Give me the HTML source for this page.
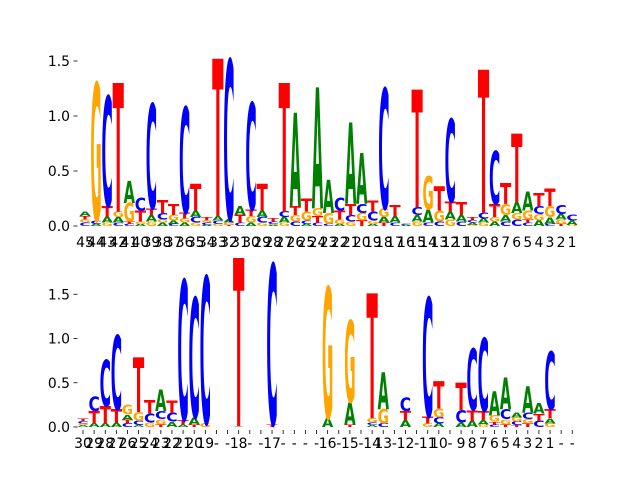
<!DOCTYPE html>
<html><head><meta charset="utf-8">
<style>
html,body{margin:0;padding:0;background:#fff;}
svg{display:block;font-family:"DejaVu Sans","Liberation Sans",sans-serif;}
</style></head>
<body>
<svg id="chart" width="640" height="480" viewBox="0 0 640 480">
<rect width="640" height="480" fill="#fff"/>
<g id="top"></g>
<g id="bot"></g>
</svg>
<script>
const topLabels = ["45","44","43","42","41","40","39","38","37","36","35","34","33","32","31","30","29","28","27","26","25","24","23","22","21","20","19","18","17","16","15","14","13","12","11","10","9","8","7","6","5","4","3","2","1"];
const topA = [.04,.02,.05,.05,.2,.02,.06,.03,.03,.03,.06,.01,.04,.03,.08,.03,.06,.01,.05,.85,.02,1.1,.3,.02,.74,.46,.02,.05,.06,.01,.06,.12,0,.07,.06,.02,.04,.04,.06,.1,.17,.05,.06,.05,.04];
const topC = [.03,.03,1.0,.03,.02,.12,.95,.06,.02,.96,.05,.02,.03,1.45,.03,.97,.05,.02,.05,.04,.03,.03,.02,.12,.06,.08,.08,1.09,.03,.01,.07,.03,.04,.75,.04,.02,.05,.48,.04,.06,.03,.07,.02,.08,.05];
const topG = [.03,1.25,.03,.05,.17,.02,.04,.03,.05,.04,.03,.02,.02,.02,0,.06,.03,.01,.03,.06,.08,.07,.1,.04,.04,.07,.03,.08,0,0,.04,.3,.1,.06,0,.01,.03,.04,.1,.06,.08,.06,.1,.04,.01];
const topT = [.03,0,.1,1.17,.02,.1,.06,.12,.1,.05,.24,.03,1.43,.01,.07,.06,.24,.03,1.17,.08,.12,.06,0,.08,.1,.05,.1,.03,.1,0,1.07,0,.22,.09,.12,.03,1.3,.12,.19,.62,.03,.12,.16,.02,0];

const botLabels = ["30","29","28","27","26","25","24","23","22","21","20","19","-","-","18","-","-","17","-","-","-","-","16","-","15","-","14","13","-","12","-","11","10","-","9","8","7","6","5","4","3","2","1","-","-"];
const botA = [.02,.04,.04,.05,.06,.02,0,.24,.06,.03,.08,0,0,0,.01,0,0,0,0,0,0,0,.1,0,.25,0,.02,.42,0,.08,0,0,.04,0,.05,.07,.05,.27,.36,.06,.3,.12,.06,0,0];
const botC = [.03,.16,.52,.84,.04,.05,.1,.09,.1,1.58,1.35,1.66,0,0,0,0,0,1.81,0,0,0,0,0,0,0,0,.03,.04,0,.15,0,1.34,.07,0,.14,.69,.82,.03,.11,.04,.07,.07,.65,0,0];
const botG = [.02,0,0,0,.11,.1,.05,.06,0,0,0,.04,0,0,0,0,0,0,0,0,0,0,1.48,0,.92,0,.05,.16,0,0,0,.04,.1,0,0,0,.03,.07,.06,.05,.05,0,.04,0,0];
const botT = [.03,.14,.2,.15,.04,.62,.15,.03,.14,.05,.03,0,0,0,1.9,0,0,.03,0,0,0,0,0,0,.03,0,1.41,0,0,.1,0,.08,.31,0,.31,.12,.1,.03,.03,.02,.04,.08,.1,0,0];

const NS="http://www.w3.org/2000/svg";
const COL={A:"#008000",C:"#0000ff",G:"#ffa500",T:"#ff0000"};
function mk(t,a,p){const e=document.createElementNS(NS,t);for(const k in a)e.setAttribute(k,a[k]);p.appendChild(e);return e;}

function panel(g,cfg){
  const xs=i=>cfg.x0+i*cfg.step;
  const ys=v=>cfg.y0-v*cfg.unit;
  // y ticks
  cfg.yticks.forEach(v=>{
    const t=mk("line",{x1:73.5,x2:77.5,y1:ys(v),y2:ys(v),stroke:"#000","stroke-width":0.8},g);
    
    
    const l=mk("text",{x:70,y:ys(v)+5,"text-anchor":"end","font-size":13.9,fill:"#000"},g);
    l.textContent=v.toFixed(1);
    
    
  });
  const w=cfg.step*1.02;
  cfg.labels.forEach((lab,i)=>{
    const cx=xs(i);
    if(cfg.xticks){
      const tk=mk("line",{x1:cx,x2:cx,y1:cfg.y0+3,y2:cfg.y0+7,stroke:"#000","stroke-width":0.8},g);
      
      
    }
    const l=mk("text",{x:cx,y:cfg.labelY,"text-anchor":"middle","font-size":13.9,fill:"#000"},g);
    l.textContent=lab;
    
    
    const vals=[["A",cfg.A[i]],["C",cfg.C[i]],["G",cfg.G[i]],["T",cfg.T[i]]].filter(d=>d[1]>0).sort((a,b)=>a[1]-b[1]);
    let acc=0;
    vals.forEach(([L,v])=>{
      const yb=ys(acc), h=v*cfg.unit;
      acc+=v;
      const t=mk("text",{x:0,y:0,"font-size":100,"font-weight":"bold",fill:COL[L],textLength:70,lengthAdjust:"spacingAndGlyphs",
        transform:`translate(${cx-w/2},${yb}) scale(${w/70},${h/72.9})`},g);
      t.textContent=L;
      
      
    });
  });
}
panel(document.getElementById("top"),{x0:85,step:11.07,y0:226,unit:110,yticks:[0,0.5,1,1.5],labels:topLabels,A:topA,C:topC,G:topG,T:topT,labelY:247,xticks:false});
panel(document.getElementById("bot"),{x0:83,step:11.12,y0:427,unit:88.5,yticks:[0,0.5,1,1.5],labels:botLabels,A:botA,C:botC,G:botG,T:botT,labelY:448,xticks:true});
</script>
</body></html>
